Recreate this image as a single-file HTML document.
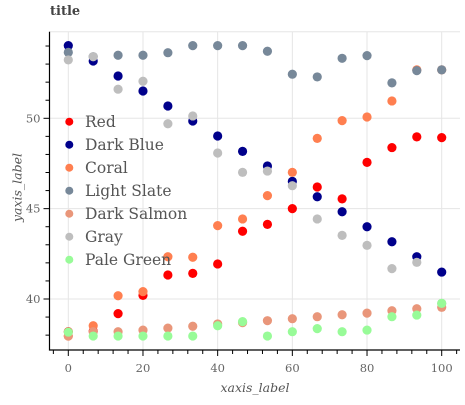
<!DOCTYPE html>
<html><head><meta charset="utf-8"><style>
body{margin:0;background:#fff}
svg text{font-family:"DejaVu Serif","Liberation Serif",serif}
</style></head><body>
<svg id="c" width="465" height="400" xmlns="http://www.w3.org/2000/svg"></svg>
<script>
const xs=[0,6.67,13.33,20,26.67,33.33,40,46.67,53.33,60,66.67,73.33,80,86.67,93.33,100];
const seriesNames=["Red","Dark Blue","Coral","Light Slate","Dark Salmon","Gray","Pale Green"];
const seriesColors=["#ff0000","#00008b","#ff7f50","#778899","#e9967a","#bebebe","#98fb98"];
const red=[38.19,38.23,39.19,40.2,41.33,41.42,41.94,43.75,44.13,45.0,46.2,45.54,47.56,48.38,48.97,48.93];
const darkBlue=[54.02,53.17,52.34,51.51,50.68,49.85,49.02,48.17,47.36,46.51,45.66,44.83,44.0,43.17,42.34,41.49];
const coral=[37.95,38.52,40.18,40.41,42.34,42.31,44.06,44.43,45.72,47.01,48.89,49.87,50.07,50.96,52.68,52.68];
const lightSlate=[53.65,53.41,53.49,53.49,53.63,54.02,54.02,54.02,53.71,52.44,52.29,53.32,53.47,51.96,52.64,52.68];
const darkSalmon=[37.95,38.19,38.19,38.28,38.39,38.49,38.62,38.69,38.8,38.91,39.02,39.13,39.22,39.35,39.46,39.54];
const gray=[53.23,53.41,51.61,52.05,49.7,50.13,48.08,47.01,47.08,46.27,44.43,43.52,42.97,41.68,42.03,39.76];
const paleGreen=[38.17,37.95,37.95,37.95,37.95,37.95,38.52,38.75,37.95,38.19,38.36,38.19,38.28,39.02,39.11,39.76];
const xTicks=[0,20,40,60,80,100];
const yTicks=[40,45,50];
const all=[red,darkBlue,coral,lightSlate,darkSalmon,gray,paleGreen];
const X=v=>68.3+v*3.734;
const Y=v=>118.3+(50-v)*18.07;
const L=49.5,R=460,T=31.7,B=350;
const svg=document.getElementById('c');
const NS="http://www.w3.org/2000/svg";
function mk(t,a,p){const e=document.createElementNS(NS,t);for(const k in a)e.setAttribute(k,a[k]);(p||svg).appendChild(e);return e;}
xTicks.forEach(v=>{const g=mk('line',{x1:X(v),x2:X(v),y1:T,y2:B,stroke:'#e5e5e5'});

});
yTicks.forEach(v=>{const g=mk('line',{x1:L,x2:R,y1:Y(v),y2:Y(v),stroke:'#e5e5e5'});

});
mk('line',{x1:L,x2:R,y1:T,y2:T,stroke:'#e5e5e5'});
const ax=mk('path',{d:`M${L},${T}V${B}H${R}`,stroke:'#000',fill:'none','stroke-width':1.2});


for(let v=-4;v<=104;v+=4){const maj=v%20===0;mk('line',{x1:X(v),x2:X(v),y1:B,y2:B+(maj?6:4),stroke:'#000'});}
for(let v=38;v<=54;v++){const maj=v%5===0;mk('line',{x1:L,x2:L-(maj?6:4),y1:Y(v),y2:Y(v),stroke:'#000'});}
xTicks.forEach(v=>{const t=mk('text',{x:X(v),y:372,'text-anchor':'middle','font-size':11.5,fill:'#666'});t.textContent=v;

});
yTicks.forEach(v=>{const t=mk('text',{x:L-9,y:Y(v)+4,'text-anchor':'end','font-size':11.5,fill:'#666'});t.textContent=v;

});
all.forEach((s,i)=>{const g=mk('g',{});


s.forEach((v,j)=>{const c=mk('circle',{cx:X(xs[j]),cy:Y(v),r:4.6,fill:seriesColors[i]},g);

});});
const lg=mk('g',{});


seriesNames.forEach((n,i)=>{const y=121.7+i*23;
mk('circle',{cx:69.3,cy:y,r:4,fill:seriesColors[i]},lg);
const t=mk('text',{x:85,y:y+5.5,'font-size':15.5,fill:'#555'},lg);t.textContent=n;

});
</script>
<div style="position:absolute;left:50px;top:4px;font:bold 13px 'DejaVu Serif',serif;color:#444">title</div>
<div style="position:absolute;left:155px;width:200px;top:380px;text-align:center;font:italic 12.5px 'DejaVu Serif',serif;color:#555">xaxis_label</div>
<div style="position:absolute;left:-33px;top:180px;width:100px;text-align:center;transform:rotate(-90deg);font:italic 12.5px 'DejaVu Serif',serif;color:#555">yaxis_label</div>
</body></html>
